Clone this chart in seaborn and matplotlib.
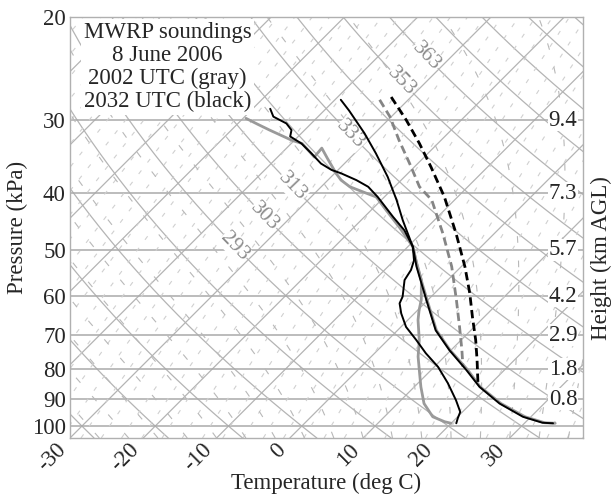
import numpy as np
import matplotlib
matplotlib.use("Agg")
import matplotlib.pyplot as plt
import seaborn as sns

# ---- sounding data (pressure kPa, temperature deg C) ----
# 2032 UTC (black)
p_temp_black = [27.7, 28.9, 31.6, 34.2, 37.5, 41.1, 44.5, 49.4, 53.4, 60.9, 68.6, 74.2, 80.2, 85.7, 91.5, 96.4, 98.7, 98.9]
t_temp_black = [-39.2, -36.6, -31.4, -27.1, -22.3, -17.9, -14.3, -9.3, -6.1, -0.2, 5.2, 9.8, 14.8, 18.9, 23.9, 28.9, 32.4, 33.9]
p_dew_black = [28.7, 29.6, 30.4, 31.2, 32.0, 32.9, 34.2, 35.6, 36.5, 37.0, 38.0, 39.0, 40.6, 43.9, 46.3, 49.4,
               52.1, 54.1, 56.3, 60.1, 61.7, 64.2, 67.7, 71.3, 75.1, 79.2, 84.5, 90.3, 94.6, 96.9, 98.9]
t_dew_black = [-47.6, -46.1, -43.4, -41.8, -41.1, -38.6, -35.9, -33.2, -30.9, -29.1, -26.1, -23.6, -20.9, -16.1, -12.7, -9.3,
               -7.3, -6.4, -5.9, -3.9, -3.4, -1.8, 0.7, 3.9, 7.0, 10.5, 14.1, 17.5, 19.7, 20.2, 20.7]
p_parcel_black = [27.4, 30.0, 32.9, 36.1, 40.6, 46.9, 53.4, 59.3, 65.1, 71.3, 77.1, 84.5]
t_parcel_black = [-32.7, -27.5, -22.5, -17.7, -11.8, -5.2, 0.5, 4.8, 8.4, 12.0, 14.9, 18.2]

# 2002 UTC (gray)
p_temp_gray = [49.4, 53.4, 60.9, 68.6, 74.2, 80.2, 85.7, 91.5, 96.4, 98.7, 98.9]
t_temp_gray = [-9.3, -6.0, -0.1, 5.3, 9.9, 15.0, 19.0, 24.1, 29.2, 32.7, 34.2]
p_dew_gray = [29.8, 30.5, 31.2, 32.5, 32.9, 34.7, 33.5, 34.9, 37.0, 38.0, 39.0, 39.8, 40.6, 42.8, 45.9, 49.4,
              52.5, 56.3, 60.9, 63.4, 65.9, 71.3, 76.1, 81.3, 85.7, 91.5, 96.4, 98.3, 98.9]
t_dew_gray = [-49.6, -47.2, -44.8, -40.3, -38.5, -35.0, -35.2, -33.0, -29.8, -28.2, -26.1, -23.6, -21.1, -17.9, -13.6, -9.3,
              -6.7, -3.6, -0.9, 0.2, 1.4, 4.3, 6.4, 8.9, 10.9, 13.6, 16.6, 18.9, 20.0]
p_parcel_gray = [27.7, 29.6, 32.5, 35.6, 39.0, 41.1, 46.9, 53.4, 60.9, 67.7, 74.2, 79.2]
t_parcel_gray = [-33.9, -30.2, -25.7, -21.1, -16.6, -13.1, -7.0, -1.3, 3.9, 8.0, 11.5, 13.9]

# labels
theta_labels = [293, 303, 313, 333, 353, 363]
theta_label_p = [49.4, 43.9, 39.0, 31.8, 25.8, 23.4]
height_levels = [30, 40, 50, 60, 70, 80, 90]
height_labels = ["9.4", "7.3", "5.7", "4.2", "2.9", "1.8", "0.8"]
p_ticks = [20, 30, 40, 50, 60, 70, 80, 90, 100]
t_ticks = [-30, -20, -10, 0, 10, 20, 30]

sns.set_style("white")
plt.rcParams["font.family"] = ["Liberation Serif", "DejaVu Serif"]
plt.rcParams["font.size"] = 16.5

P_BOT, P_TOP = 104.8, 20.0
T_MIN, T_MAX = -30.0, 40.0
W_PX, H_PX = 513, 421

fig = plt.figure(figsize=(6.12, 4.96), dpi=100)
ax = fig.add_axes([70 / 612, 58 / 496, W_PX / 612, H_PX / 496])
ax.set_yscale("log")
ax.set_xlim(T_MIN, T_MAX)
ax.set_ylim(P_BOT, P_TOP)

# skew so isotherms run at 45 degrees on screen
SKEW = (H_PX / np.log(P_BOT / P_TOP)) / (W_PX / (T_MAX - T_MIN))


def sx(t, p):
    return np.asarray(t, float) + SKEW * np.log(P_BOT / np.asarray(p, float))


def es(tc):
    return 6.112 * np.exp(17.67 * tc / (tc + 243.5))


pp = np.geomspace(P_BOT, P_TOP, 240)
GRID = "#b4b4b4"

# isotherms
for t in range(-90, 50, 10):
    ax.plot(sx(t, pp), pp, color=GRID, lw=0.9, zorder=1)
# dry adiabats
for th in np.arange(233.15, 430, 10):
    ax.plot(sx(th * (pp / 100) ** 0.2857 - 273.15, pp), pp, color=GRID, lw=0.9, zorder=1)
# isobars
for p in p_ticks[1:]:
    ax.axhline(p, color="#aaaaaa", lw=1.1, zorder=1)

# mixing ratio lines (dashed)
for td0 in np.arange(-95, 46, 2.75):
    e0 = es(td0)
    w = 0.622 * e0 / (1000 - e0)
    le = np.log(w * pp * 10 / (0.622 + w) / 6.112)
    td = 243.5 * le / (17.67 - le)
    ax.plot(sx(td, pp), pp, color="#d0d0d0", lw=0.8, ls=(0, (4, 9)), zorder=1)

# saturated (pseudo) adiabats
Rd, cp, Lv, eps = 287.04, 1005.7, 2.501e6, 0.622


def dtdlnp(T, ph):
    rs = eps * es(T - 273.15) / (ph - es(T - 273.15))
    return (Rd * T + Lv * rs) / (cp + Lv * Lv * rs * eps / (Rd * T * T))


lnp = np.log(pp * 10)
for t0 in np.arange(-30, 66, 4):
    T = np.empty_like(pp)
    T[0] = t0 + 273.15
    for i in range(1, len(pp)):
        d = lnp[i] - lnp[i - 1]
        k1 = dtdlnp(T[i - 1], pp[i - 1] * 10)
        k2 = dtdlnp(T[i - 1] + k1 * d, pp[i] * 10)
        T[i] = T[i - 1] + 0.5 * (k1 + k2) * d
    ax.plot(sx(T - 273.15, pp), pp, color="#b8b8b8", lw=0.8, ls=(0, (6, 16)), zorder=1)

# potential temperature labels along dry adiabats
fig.canvas.draw()
for th, p in zip(theta_labels, theta_label_p):
    t1 = th * (p / 100) ** 0.2857 - 273.15
    p2 = p * 0.97
    t2 = th * (p2 / 100) ** 0.2857 - 273.15
    a = ax.transData.transform((sx(t1, p), p))
    b = ax.transData.transform((sx(t2, p2), p2))
    ang = np.degrees(np.arctan2(b[1] - a[1], b[0] - a[0]))
    if ang > 90:
        ang -= 180
    if ang < -90:
        ang += 180
    ax.text(sx(t1, p), p, str(th), color="#8c8c8c", fontsize=15.5, rotation=ang,
            rotation_mode="anchor", ha="center", va="center", zorder=2,
            bbox=dict(fc="white", ec="none", pad=0.2))

# heights on the right
for p, lab in zip(height_levels, height_labels):
    ax.text(0.989, p, lab, transform=ax.get_yaxis_transform(), ha="right", va="center",
            zorder=2, bbox=dict(fc="white", ec="none", pad=0.3))

# soundings
sns.lineplot(x=sx(t_temp_gray, p_temp_gray), y=p_temp_gray, sort=False, estimator=None,
             color="#9a9a9a", lw=2.0, ax=ax, zorder=5)
sns.lineplot(x=sx(t_dew_gray, p_dew_gray), y=p_dew_gray, sort=False, estimator=None,
             color="#9a9a9a", lw=2.0, ax=ax, zorder=5)
sns.lineplot(x=sx(t_parcel_gray, p_parcel_gray), y=p_parcel_gray, sort=False, estimator=None,
             color="#858585", lw=2.0, ls=(0, (3, 1.6)), ax=ax, zorder=5)
sns.lineplot(x=sx(t_temp_black, p_temp_black), y=p_temp_black, sort=False, estimator=None,
             color="black", lw=1.4, ax=ax, zorder=6)
sns.lineplot(x=sx(t_dew_black, p_dew_black), y=p_dew_black, sort=False, estimator=None,
             color="black", lw=1.4, ax=ax, zorder=6)
sns.lineplot(x=sx(t_parcel_black, p_parcel_black), y=p_parcel_black, sort=False, estimator=None,
             color="black", lw=2.0, ls=(0, (3, 1.6)), ax=ax, zorder=6)

ax.text(0.19, 0.988, "MWRP soundings\n8 June 2006\n2002 UTC (gray)\n2032 UTC (black)",
        transform=ax.transAxes, ha="center", va="top", linespacing=1.12, zorder=7,
        bbox=dict(fc="white", ec="none", pad=2))

ax.set_yticks(p_ticks)
ax.set_yticklabels([str(p) for p in p_ticks])
ax.yaxis.set_minor_locator(matplotlib.ticker.NullLocator())
ax.set_xticks(t_ticks)
ax.set_xticklabels([str(t) for t in t_ticks], rotation=45, ha="right", va="top")
ax.tick_params(length=0, pad=3)
ax.tick_params(axis="x", pad=1)
ax.set_xlabel("Temperature (deg C)", labelpad=-2)
ax.set_ylabel("Pressure (kPa)", labelpad=3)
fig.text(0.983, 0.48, "Height (km AGL)", rotation=90, ha="center", va="center")
for s in ax.spines.values():
    s.set_color("#b0b0b0")
    s.set_linewidth(1.0)

fig.savefig("out.png", dpi=100)
